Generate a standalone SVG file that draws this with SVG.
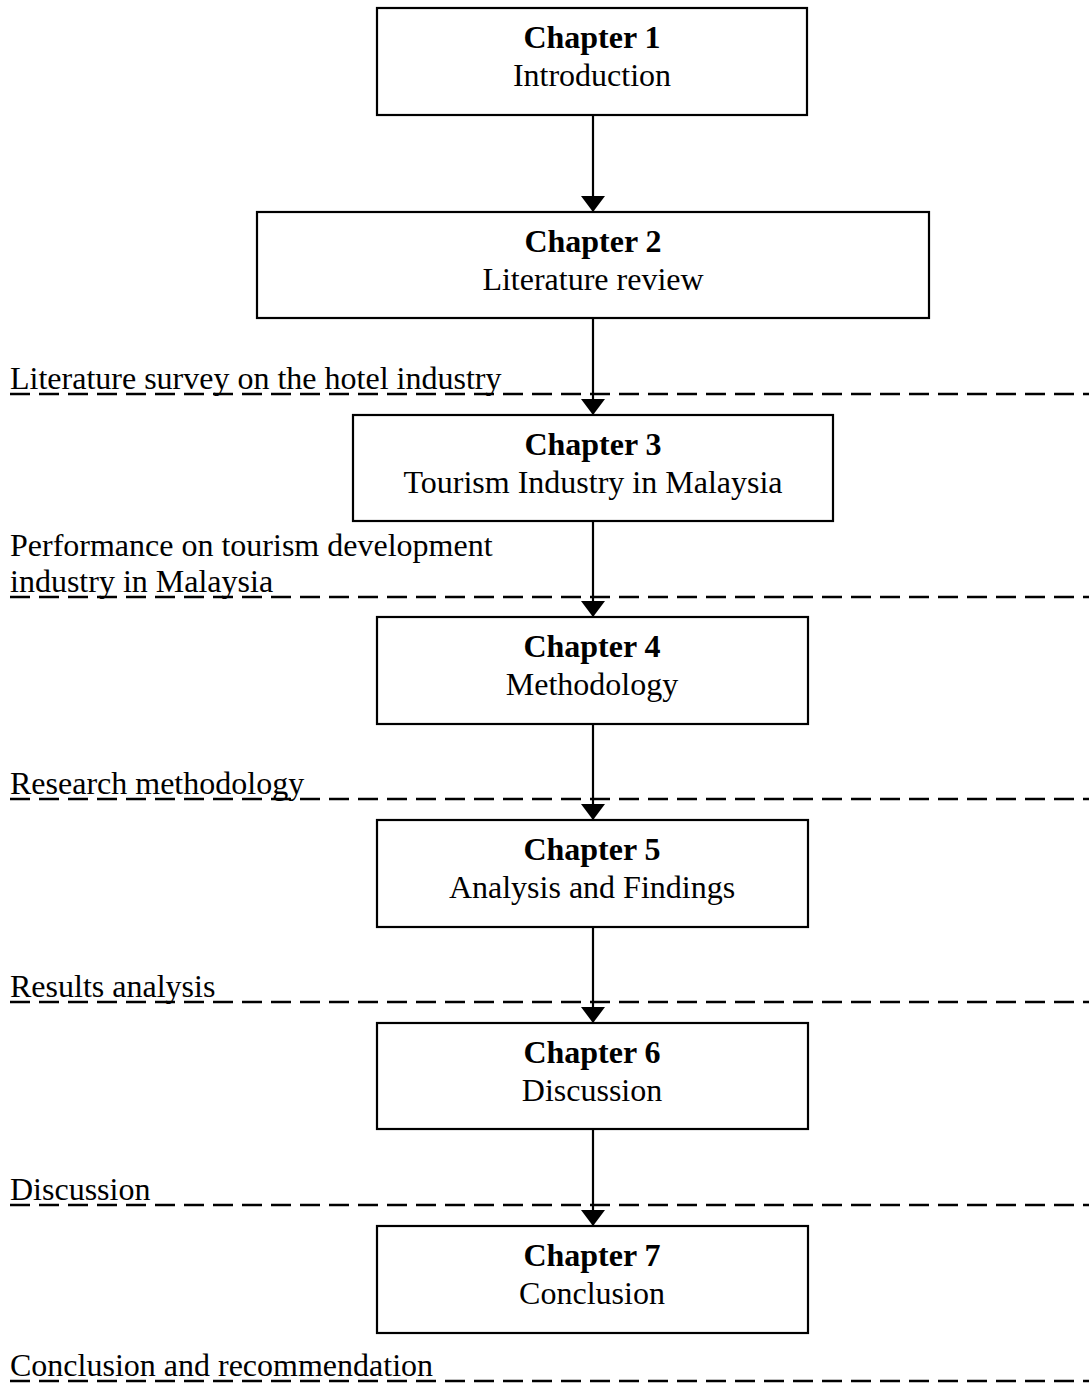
<svg xmlns="http://www.w3.org/2000/svg" width="1089" height="1389" viewBox="0 0 1089 1389">
<style>
.box{fill:#fff;stroke:#000;stroke-width:2.2}
.t{font-family:"Liberation Serif","Times New Roman",serif;font-size:32px;fill:#000}
.b{font-weight:bold}
.c{text-anchor:middle}
.dash{stroke:#000;stroke-width:2.5;stroke-dasharray:20 9;fill:none}
.arr{stroke:#000;stroke-width:2.2;fill:none}
</style>
<defs>
<marker id="ah" viewBox="0 0 16 24" refX="16" refY="12" markerWidth="16" markerHeight="24" markerUnits="userSpaceOnUse" orient="auto">
<path d="M0,0 L16,12 L0,24 z" fill="#000"/>
</marker>
</defs>
<rect width="1089" height="1389" fill="#fff"/>
<g id="labels">
<text class="t" x="10" y="389">Literature survey on the hotel industry</text>
<text class="t" x="10" y="556">Performance on tourism development</text>
<text class="t" x="10" y="592">industry in Malaysia</text>
<text class="t" x="10" y="794">Research methodology</text>
<text class="t" x="10" y="997">Results analysis</text>
<text class="t" x="10" y="1200">Discussion</text>
<text class="t" x="10" y="1376">Conclusion and recommendation</text>
</g>
<g id="dashes">
<line class="dash" x1="10" y1="394" x2="1089" y2="394"/>
<line class="dash" x1="10" y1="597" x2="1089" y2="597"/>
<line class="dash" x1="10" y1="799" x2="1089" y2="799"/>
<line class="dash" x1="10" y1="1002" x2="1089" y2="1002"/>
<line class="dash" x1="10" y1="1205" x2="1089" y2="1205"/>
<line class="dash" x1="10" y1="1381" x2="1089" y2="1381"/>
</g>
<g id="connectors">
<line class="arr" x1="593" y1="115" x2="593" y2="212" marker-end="url(#ah)"/>
<line class="arr" x1="593" y1="318" x2="593" y2="415" marker-end="url(#ah)"/>
<line class="arr" x1="593" y1="521" x2="593" y2="617" marker-end="url(#ah)"/>
<line class="arr" x1="593" y1="724" x2="593" y2="820" marker-end="url(#ah)"/>
<line class="arr" x1="593" y1="927" x2="593" y2="1023" marker-end="url(#ah)"/>
<line class="arr" x1="593" y1="1129" x2="593" y2="1226" marker-end="url(#ah)"/>
</g>
<g id="ch1">
<rect class="box" x="377" y="8" width="430" height="107"/>
<text class="t b c" x="592" y="48">Chapter 1</text>
<text class="t c" x="592" y="86">Introduction</text>
</g>
<g id="ch2">
<rect class="box" x="257" y="212" width="672" height="106"/>
<text class="t b c" x="593" y="252">Chapter 2</text>
<text class="t c" x="593" y="290">Literature review</text>
</g>
<g id="ch3">
<rect class="box" x="353" y="415" width="480" height="106"/>
<text class="t b c" x="593" y="455">Chapter 3</text>
<text class="t c" x="593" y="493">Tourism Industry in Malaysia</text>
</g>
<g id="ch4">
<rect class="box" x="377" y="617" width="431" height="107"/>
<text class="t b c" x="592" y="657">Chapter 4</text>
<text class="t c" x="592" y="695">Methodology</text>
</g>
<g id="ch5">
<rect class="box" x="377" y="820" width="431" height="107"/>
<text class="t b c" x="592" y="860">Chapter 5</text>
<text class="t c" x="592" y="898">Analysis and Findings</text>
</g>
<g id="ch6">
<rect class="box" x="377" y="1023" width="431" height="106"/>
<text class="t b c" x="592" y="1063">Chapter 6</text>
<text class="t c" x="592" y="1101">Discussion</text>
</g>
<g id="ch7">
<rect class="box" x="377" y="1226" width="431" height="107"/>
<text class="t b c" x="592" y="1266">Chapter 7</text>
<text class="t c" x="592" y="1304">Conclusion</text>
</g>
</svg>
